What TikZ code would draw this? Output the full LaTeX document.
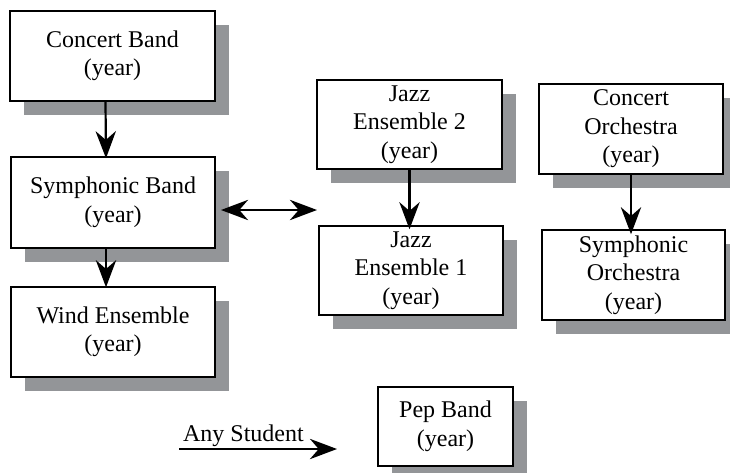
\documentclass[tikz,border=0pt]{standalone}
\usepackage{fontspec}
\setmainfont{Liberation Serif}
\usetikzlibrary{arrows.meta,shadows}
\definecolor{shadowgray}{RGB}{147,149,152}
\tikzset{
  bandbox/.style={draw, fill=white, line width=1.5pt, align=center, inner sep=0pt,
    font=\rmfamily\fontsize{24}{28.5}\selectfont,
    general shadow={fill=shadowgray, shadow xshift=14pt, shadow yshift=-14pt}},
  bandtip/.tip={Stealth[scale=2.1, fill=black]},
  bandarrow/.style={line width=2.2pt, -bandtip}
}
\begin{document}
\begin{tikzpicture}[x=1pt, y=-1pt, line join=miter]
                \useasboundingbox (0,0) rectangle (730,472);
                \node[bandbox, minimum width=205pt, minimum height=90pt] (cband) at (112.5,56) {Concert Band\\(year)};
                \node[bandbox, minimum width=204pt, minimum height=91pt] (sband) at (113,202.5) {Symphonic Band\\(year)};
                \node[bandbox, minimum width=204pt, minimum height=90pt] (wind) at (113,332) {Wind Ensemble\\(year)};
                \node[bandbox, minimum width=185pt, minimum height=89pt] (jazztwo) at (409.5,124.5) {Jazz\\Ensemble 2\\(year)};
                \node[bandbox, minimum width=184pt, minimum height=89pt] (jazzone) at (411,270.5) {Jazz\\Ensemble 1\\(year)};
                \node[bandbox, minimum width=184pt, minimum height=90pt] (corch) at (631,129) {Concert\\Orchestra\\(year)};
                \node[bandbox, minimum width=183pt, minimum height=90pt] (sorch) at (633.5,275) {Symphonic\\Orchestra\\(year)};
                \node[bandbox, minimum width=135pt, minimum height=79pt] (pep) at (445.5,426.5) {Pep Band\\(year)};
                \coordinate (left) at (221,210);
                \coordinate (right) at (317,210);
                \coordinate (any) at (179,449);
                \coordinate (anyend) at (337,449);
                \draw[bandarrow] ([xshift=-7pt]cband.south) -- ([xshift=-7pt,yshift=-2pt]sband.north);
                \draw[bandarrow] ([xshift=-7pt]sband.south) -- ([xshift=-7pt,yshift=-1pt]wind.north);
                \draw[bandarrow] (jazztwo.south) -- ([yshift=-4pt]jazzone.north -| jazztwo.south);
                \draw[bandarrow] (corch.south) -- ([yshift=-5pt]sorch.north -| corch.south);
                \draw[bandarrow, bandtip-bandtip] (left) -- (right);
                \draw[bandarrow] (any) -- (anyend)
                node[pos=0, anchor=south west, inner sep=1pt, xshift=2pt, font=\rmfamily\fontsize{24}{28.5}\selectfont]{Any Student};
            \end{tikzpicture}
\end{document}
